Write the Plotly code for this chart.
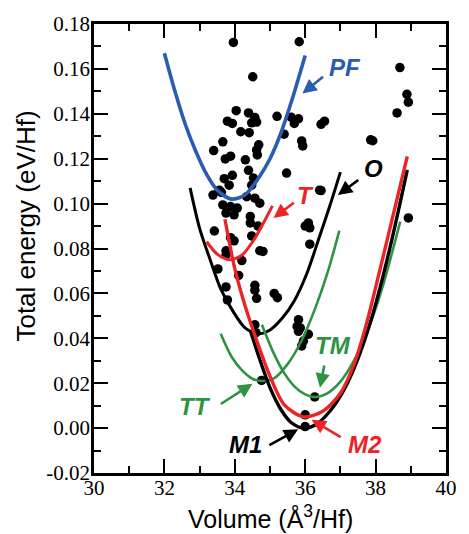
import plotly.graph_objects as go

# Total energy vs volume for HfO2 structures (eV/Hf, Å^3/Hf)

# Scattered structure energies
dot_vol = [33.96, 35.83, 34.51, 34.04, 34.39, 34.57, 34.62, 34.48, 33.79, 33.93,
           35.20, 35.60, 35.81, 35.69, 36.45, 34.17, 34.41, 35.40, 33.66, 33.40,
           34.68, 34.62, 34.64, 35.90, 35.93, 33.88, 33.73, 34.30, 34.39, 35.47,
           34.53, 33.70, 33.93, 33.84, 36.41, 33.56, 33.62, 33.38, 34.34, 34.57,
           33.66, 33.88, 34.07, 33.75, 33.98, 34.44, 34.44, 36.09, 36.13, 36.00,
           34.66, 33.42, 33.88, 33.98, 36.13, 33.75, 33.75, 34.71, 34.80, 34.20,
           33.52, 34.11, 34.57, 33.75, 34.57, 33.79, 34.62, 35.12, 35.21, 35.81,
           35.77, 35.86, 34.57, 36.09, 35.90, 35.95, 35.81, 38.69, 38.89, 38.93,
           38.61, 36.55, 37.86, 37.92, 38.93, 34.48, 34.71, 34.48, 36.45,
           36.27, 36.00, 36.00, 34.76, 34.60]
dot_energy = [0.1718, 0.1721, 0.1565, 0.1414, 0.1404, 0.1383, 0.1363, 0.1360, 0.1367, 0.1357,
              0.1389, 0.1385, 0.1378, 0.1357, 0.1353, 0.1320, 0.1316, 0.1309, 0.1275, 0.1236,
              0.1262, 0.1239, 0.1217, 0.1279, 0.1257, 0.1211, 0.1199, 0.1195, 0.1148, 0.1136,
              0.1114, 0.1111, 0.1126, 0.1082, 0.1060, 0.1060, 0.1050, 0.1038, 0.1031, 0.1024,
              0.0994, 0.0987, 0.0980, 0.0958, 0.0950, 0.0943, 0.0914, 0.0914, 0.0892, 0.0900,
              0.0900, 0.0878, 0.0848, 0.0834, 0.0819, 0.0790, 0.0771, 0.0790, 0.0787, 0.0746,
              0.0709, 0.0680, 0.0636, 0.0629, 0.0614, 0.0571, 0.0578, 0.0600, 0.0581, 0.0483,
              0.0453, 0.0446, 0.0460, 0.0418, 0.0366, 0.0388, 0.0431, 0.1606, 0.1487, 0.1452,
              0.1404, 0.1367, 0.1284, 0.1280, 0.0936, 0.1082, 0.1002, 0.0856, 0.1058,
              0.0139, 0.0059, 0.0007, 0.0212, 0.0425]

# Fitted E(V) curves
pf_vol = [32.0, 32.3, 32.6, 32.9, 33.2, 33.5, 33.9, 34.3, 34.7, 35.0, 35.3, 35.6, 36.0]
pf_energy = [0.167, 0.150, 0.135, 0.123, 0.113, 0.106, 0.102, 0.104, 0.112, 0.120, 0.131, 0.145, 0.166]

o_vol = [32.73, 33.0, 33.3, 33.6, 33.95, 34.3, 34.66, 35.0, 35.35, 35.7, 36.05, 36.4, 36.7, 37.0]
o_energy = [0.107, 0.089, 0.075, 0.062, 0.052, 0.0445, 0.042, 0.0437, 0.049, 0.057, 0.069, 0.085, 0.099, 0.114]

t_vol = [33.2, 33.5, 33.85, 34.2, 34.55, 34.8, 35.07]
t_energy = [0.083, 0.0775, 0.075, 0.077, 0.084, 0.091, 0.099]

m2_vol = [33.72, 34.0, 34.3, 34.6, 34.95, 35.4, 35.95, 36.5, 37.0, 37.4, 37.75, 38.1, 38.5, 38.9]
m2_energy = [0.093, 0.071, 0.054, 0.040, 0.025, 0.0105, 0.005, 0.0075, 0.0155, 0.029, 0.047, 0.069, 0.095, 0.121]

m1_vol = [34.45, 34.7, 35.0, 35.3, 35.6, 35.95, 36.3, 36.7, 37.1, 37.5, 37.85, 38.2, 38.55, 38.9]
m1_energy = [0.043, 0.031, 0.018, 0.0085, 0.0025, 0.0, 0.0015, 0.0075, 0.017, 0.031, 0.047, 0.067, 0.090, 0.115]

tt_vol = [33.6, 33.9, 34.2, 34.5, 34.77, 35.1, 35.5, 35.9, 36.3, 36.65, 36.97]
tt_energy = [0.042, 0.032, 0.0258, 0.022, 0.021, 0.022, 0.0285, 0.039, 0.054, 0.070, 0.088]

tm_vol = [34.77, 35.1, 35.4, 35.7, 36.0, 36.28, 36.6, 37.0, 37.4, 37.8, 38.2, 38.7]
tm_energy = [0.046, 0.0335, 0.0246, 0.0185, 0.015, 0.0138, 0.0152, 0.0207, 0.0305, 0.0445, 0.063, 0.092]

x_ticks = [30, 32, 34, 36, 38, 40]
y_ticks = [-0.02, 0.0, 0.02, 0.04, 0.06, 0.08, 0.10, 0.12, 0.14, 0.16, 0.18]

BLUE = "#2a5db0"
RED = "#ec2327"
GREEN = "#2e9344"
BLACK = "#000000"

fig = go.Figure()

fig.add_trace(go.Scatter(x=dot_vol, y=dot_energy, mode="markers",
                         marker=dict(color=BLACK, size=9.5, line=dict(width=0)),
                         showlegend=False, hoverinfo="skip"))

curves = [
    (pf_vol, pf_energy, BLUE, 3.6),
    (o_vol, o_energy, BLACK, 3.0),
    (t_vol, t_energy, RED, 3.0),
    (tt_vol, tt_energy, GREEN, 2.6),
    (tm_vol, tm_energy, GREEN, 2.6),
    (m1_vol, m1_energy, BLACK, 3.4),
    (m2_vol, m2_energy, RED, 3.4),
]
for vx, ey, col, w in curves:
    fig.add_trace(go.Scatter(x=vx, y=ey, mode="lines",
                             line=dict(color=col, width=w, shape="spline", smoothing=0.8),
                             showlegend=False, hoverinfo="skip"))

label_font = "Liberation Sans"
# (text, colour, text x, text y, arrow tail x, tail y, head x, head y)
labels = [
    ("PF", BLUE, 37.13, 0.1607, 36.55, 0.1570, 35.92, 0.1490),
    ("O", BLACK, 37.93, 0.1155, 37.55, 0.1110, 36.93, 0.1038),
    ("T", RED, 36.02, 0.1038, 35.72, 0.1009, 35.10, 0.0936),
    ("TM", GREEN, 36.80, 0.0366, 36.55, 0.0286, 36.42, 0.0180),
    ("TT", GREEN, 32.87, 0.0095, 33.56, 0.0103, 34.50, 0.0198),
    ("M1", BLACK, 34.30, -0.0073, 34.94, -0.0080, 35.80, -0.0005),
    ("M2", RED, 37.70, -0.0073, 37.05, -0.0044, 36.18, 0.0037),
]
annotations = []
for txt, col, tx, ty, ax, ay, hx, hy in labels:
    annotations.append(dict(x=tx, y=ty, xref="x", yref="y", text="<b><i>%s</i></b>" % txt,
                            xanchor="center", yanchor="middle", showarrow=False,
                            font=dict(family=label_font, size=24, color=col)))
    annotations.append(dict(x=hx, y=hy, ax=ax, ay=ay, xref="x", yref="y", axref="x", ayref="y",
                            text="", showarrow=True, arrowhead=2, arrowsize=1.1,
                            arrowwidth=2.6, arrowcolor=col))

# Axis titles placed explicitly in paper coordinates
annotations.append(dict(x=-0.193, y=0.549, xref="paper", yref="paper", text="Total energy (eV/Hf)",
                        xanchor="center", yanchor="middle", textangle=-90, showarrow=False,
                        font=dict(family="Liberation Sans", size=26, color=BLACK)))
annotations.append(dict(x=0.5, y=-0.097, xref="paper", yref="paper",
                        text="Volume (Å<sup>3</sup>/Hf)", xanchor="center", yanchor="middle",
                        showarrow=False,
                        font=dict(family="Liberation Sans", size=25, color=BLACK)))

axis_common = dict(showline=True, linewidth=2.6, linecolor=BLACK, mirror="allticks",
                   ticks="inside", ticklen=14, tickwidth=2, tickcolor=BLACK,
                   showgrid=False, zeroline=False,
                   tickfont=dict(family="Liberation Serif", size=21, color=BLACK))

fig.update_xaxes(range=[30, 40], tickmode="array", tickvals=x_ticks,
                 ticktext=[str(v) for v in x_ticks], ticklabelstandoff=-6,
                 minor=dict(dtick=1, tick0=30, ticks="inside", ticklen=7, tickwidth=2, tickcolor=BLACK),
                 **axis_common)
fig.update_yaxes(range=[-0.02, 0.18], tickmode="array", tickvals=y_ticks,
                 ticktext=["%.2f" % v for v in y_ticks], ticklabelstandoff=-3,
                 minor=dict(dtick=0.01, tick0=0, ticks="inside", ticklen=7, tickwidth=2, tickcolor=BLACK),
                 **axis_common)

fig.update_layout(width=469, height=534, margin=dict(l=94, r=12, t=18, b=61),
                  paper_bgcolor="white", plot_bgcolor="white",
                  annotations=annotations, showlegend=False)

fig.write_html("out.html")
